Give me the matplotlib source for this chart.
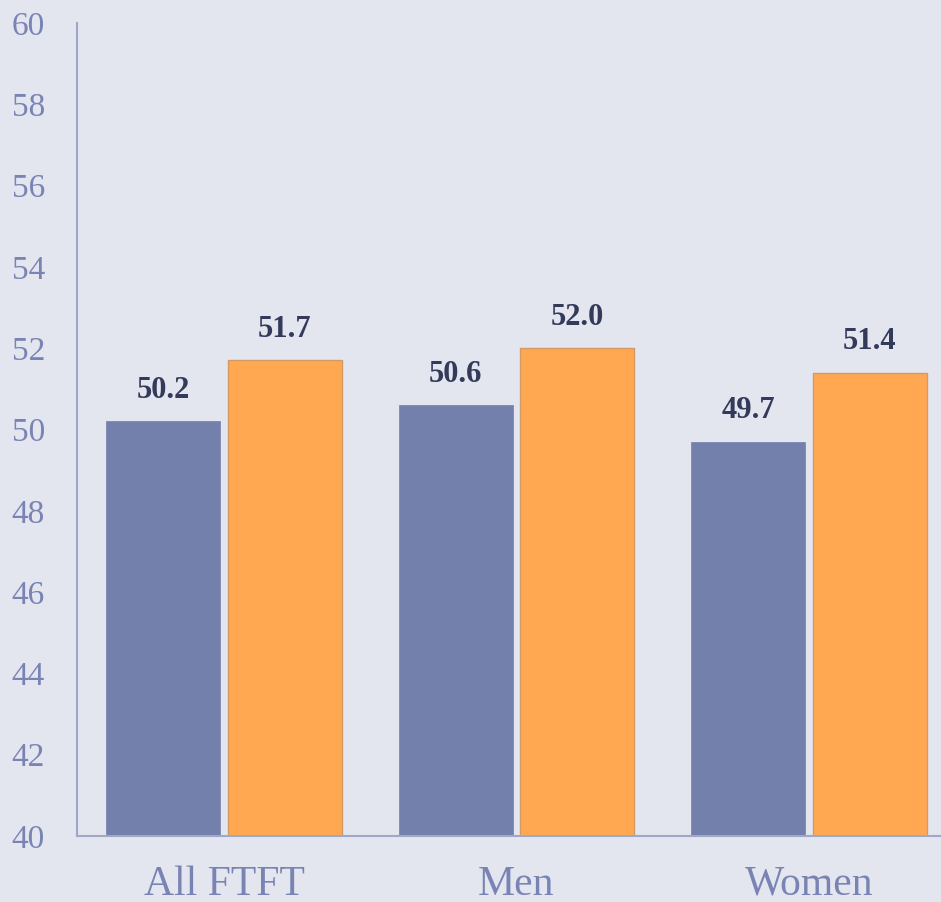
import numpy as np
import matplotlib
matplotlib.use('Agg')
import matplotlib.pyplot as plt

categories = ['All FTFT', 'Men', 'Women']
series_a = [50.2, 50.6, 49.7]
series_b = [51.7, 52.0, 51.4]
yticks = [40, 42, 44, 46, 48, 50, 52, 54, 56, 58, 60]

bg = '#e3e6ef'
purple = '#7480ac'
orange = '#ffa751'
tick_col = '#7a84b4'
label_col = '#333a5a'

plt.rcParams['font.family'] = ['Liberation Serif', 'DejaVu Serif']

fig = plt.figure(figsize=(9.41, 9.02), dpi=100)
fig.patch.set_facecolor(bg)
ax = fig.add_axes([0.0818, 0.0732, 0.9182, 0.9013])
ax.set_facecolor(bg)

x = np.arange(len(categories))
width = 0.39
off = 0.208
bars_a = ax.bar(x - off, series_a, width, color=purple, edgecolor=purple, linewidth=0.5)
bars_b = ax.bar(x + off, series_b, width, color=orange, edgecolor='#d49a66', linewidth=1)

# value labels above each bar
for bars, vals in ((bars_a, series_a), (bars_b, series_b)):
    for b, v in zip(bars, vals):
        ax.text(b.get_x() + b.get_width() / 2, v + 0.4, '%.1f' % v,
                ha='center', va='bottom', fontsize=22, fontweight='bold', color=label_col)

ax.set_ylim(40, 60)
ax.set_xlim(-0.503, 2.452)
ax.set_yticks(yticks)
ax.set_xticks(x)
ax.set_xticklabels(categories)
ax.tick_params(axis='y', length=0, pad=23, labelsize=24, labelcolor=tick_col)
ax.tick_params(axis='x', length=0, pad=21, labelsize=30, labelcolor=tick_col)

for s in ('top', 'right'):
    ax.spines[s].set_visible(False)
for s in ('left', 'bottom'):
    ax.spines[s].set_color('#a0a8c8')
    ax.spines[s].set_linewidth(1.5)

fig.savefig('out.png', dpi=100, facecolor=bg)
